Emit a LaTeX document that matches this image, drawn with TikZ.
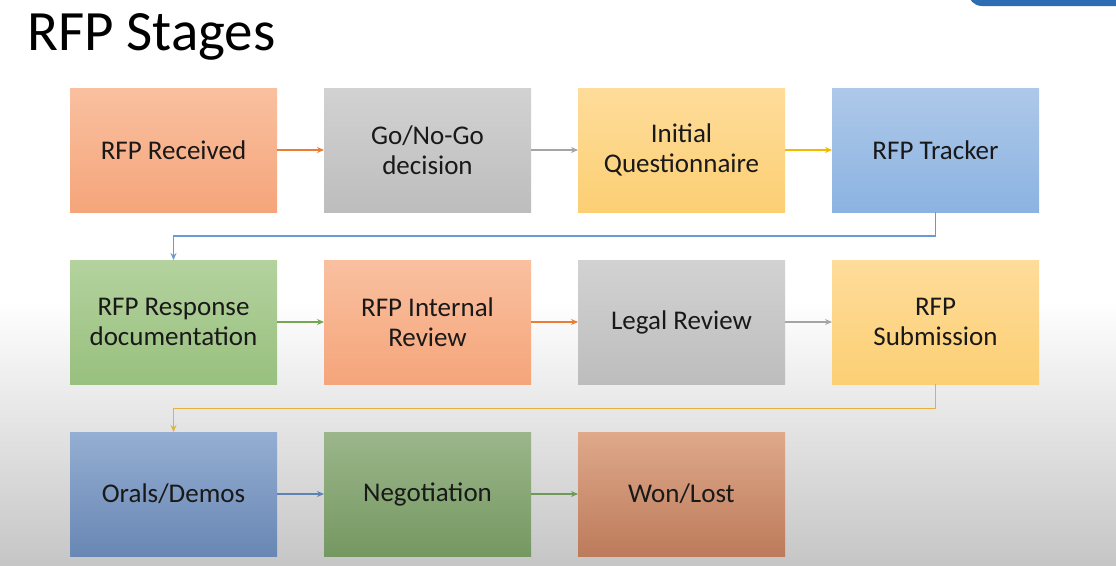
\documentclass[tikz,border=0pt]{standalone}
\usepackage{fontspec}
\setmainfont{Carlito}
\usepackage{xcolor}
\usepackage{tikz}
\usetikzlibrary{positioning,arrows.meta}

\definecolor{orgtop}{HTML}{F9C0A0}
\definecolor{orgbot}{HTML}{F5A57A}
\definecolor{grytop}{HTML}{D2D2D2}
\definecolor{grybot}{HTML}{BDBDBD}
\definecolor{yeltop}{HTML}{FEDC9A}
\definecolor{yelbot}{HTML}{FCCF74}
\definecolor{blutop}{HTML}{AEC8E8}
\definecolor{blubot}{HTML}{8BB3E2}
\definecolor{grntop}{HTML}{B4D29E}
\definecolor{grnbot}{HTML}{98C07E}
\definecolor{dbltop}{HTML}{95AED2}
\definecolor{dblbot}{HTML}{6887B4}
\definecolor{dgrtop}{HTML}{9BB68B}
\definecolor{dgrbot}{HTML}{759861}
\definecolor{brntop}{HTML}{DFA98A}
\definecolor{brnbot}{HTML}{BC7B5B}
\definecolor{orgline}{HTML}{ED7D31}
\definecolor{gryline}{HTML}{A5A5A5}
\definecolor{yelline}{HTML}{F5B800}
\definecolor{goldline}{HTML}{E4B23C}
\definecolor{bluline}{HTML}{6A9AD0}
\definecolor{grnline}{HTML}{74A84E}
\definecolor{dblline}{HTML}{5E82B4}
\definecolor{dgrline}{HTML}{6E9A56}
\definecolor{ytblue}{HTML}{2E6DB4}

\newcommand{\stagefont}{\fontsize{27pt}{30pt}\selectfont}
\newcommand{\headfont}{\fontsize{57pt}{60pt}\selectfont}

\tikzset{
    stagebox/.style={minimum width=207pt, minimum height=124pt, inner sep=0pt,
        outer sep=0pt, align=center, font=\stagefont, text=black!90},
    orangebox/.style={stagebox, top color=orgtop, bottom color=orgbot},
    graybox/.style={stagebox, top color=grytop, bottom color=grybot},
    yellowbox/.style={stagebox, top color=yeltop, bottom color=yelbot},
    bluebox/.style={stagebox, top color=blutop, bottom color=blubot},
    greenbox/.style={stagebox, top color=grntop, bottom color=grnbot},
    darkbluebox/.style={stagebox, top color=dbltop, bottom color=dblbot},
    darkgreenbox/.style={stagebox, top color=dgrtop, bottom color=dgrbot},
    brownbox/.style={stagebox, top color=brntop, bottom color=brnbot},
    link/.style={line width=1.1pt, -{Stealth[length=7pt,width=6pt]}}
}

\begin{document}
\begin{tikzpicture}[x=1pt, y=-1pt, node distance=47pt]
    % Slide background
    \useasboundingbox (0,0) rectangle (1116,565);
    \fill[white] (0,0) rectangle (1116,565);
    \shade[top color=white, bottom color=gray!45] (0,300) rectangle (1116,565);
    \fill[ytblue, rounded corners=14pt] (968,-30) rectangle (1150,6);

    % Title
    \node[anchor=base west, font=\headfont, inner sep=0pt] (title) at (27,50) {RFP Stages};

    % First row
    \node[orangebox] (recv) at (173.5,150) {RFP Received};
    \node[graybox, right=of recv] (gonogo) {Go/No-Go\\decision};
    \node[yellowbox, right=of gonogo] (quest) {Initial\\Questionnaire};
    \node[bluebox, right=of quest] (track) {RFP Tracker};

    % Second row
    \node[greenbox, below=48pt of recv] (resp) {RFP Response\\documentation};
    \node[orangebox, right=of resp] (intrev) {RFP Internal\\Review};
    \node[graybox, right=of intrev] (legal) {Legal Review};
    \node[yellowbox, right=of legal] (submit) {RFP\\Submission};

    % Third row
    \node[darkbluebox, below=48pt of resp] (orals) {Orals/Demos};
    \node[darkgreenbox, right=of orals] (nego) {Negotiation};
    \node[brownbox, right=of nego] (result) {Won/Lost};

    % Connectors
    \draw[link, orgline] (recv) -- (gonogo);
    \draw[link, gryline] (gonogo) -- (quest);
    \draw[link, yelline] (quest) -- (track);
    \draw[link, bluline] (track.south) -- ++(0,24) -| (resp.north);
    \draw[link, grnline] (resp) -- (intrev);
    \draw[link, orgline] (intrev) -- (legal);
    \draw[link, gryline] (legal) -- (submit);
    \draw[link, goldline] (submit.south) -- ++(0,24.5) -| (orals.north);
    \draw[link, dblline] (orals) -- (nego);
    \draw[link, dgrline] (nego) -- (result);
\end{tikzpicture}
\end{document}
